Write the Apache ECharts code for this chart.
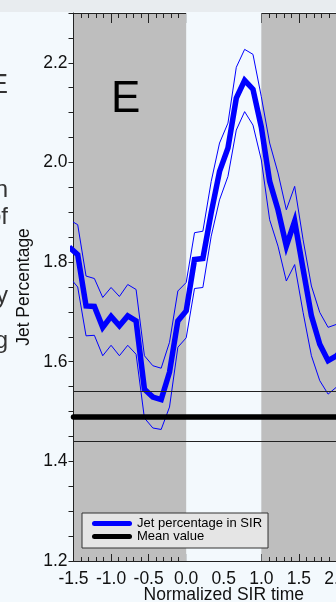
<!DOCTYPE html>
<html><head><meta charset="utf-8">
<script src="https://cdn.jsdelivr.net/npm/echarts@6/dist/echarts.min.js"></script>
<style>
html,body{margin:0;padding:0;overflow:hidden;width:336px;height:602px;background:#f3f9fd;}
#topbar{position:absolute;left:0;top:0;width:336px;height:12px;background:#e8ecef;}
#wrap{position:absolute;left:0;top:0;width:336px;height:602px;overflow:hidden;}
#chart{position:absolute;left:0;top:0;width:420px;height:602px;}
</style></head><body>
<div id="topbar"></div>
<div id="wrap"><div id="chart"></div></div>
<script>
// Normalized SIR time (bin centres) and jet percentage values
const sirTimes  = [-1.556,-1.444,-1.333,-1.222,-1.111,-1.0,-0.889,-0.778,-0.667,-0.556,-0.444,-0.333,-0.222,-0.111,0.0,
                   0.111,0.222,0.333,0.444,0.556,0.667,0.778,0.889,1.0,1.111,1.222,1.333,1.444,1.556,1.667,1.778,1.889,2.0,2.111];
const jetMean   = [1.830,1.815,1.712,1.711,1.669,1.691,1.672,1.692,1.682,1.545,1.529,1.524,1.579,1.682,1.702,
                   1.805,1.807,1.899,1.982,2.029,2.129,2.165,2.147,2.071,1.962,1.905,1.832,1.882,1.786,1.692,1.635,1.602,1.612,1.630];
const jetUpper  = [1.885,1.875,1.772,1.767,1.729,1.749,1.731,1.755,1.745,1.612,1.592,1.587,1.639,1.742,1.759,
                   1.859,1.862,1.962,2.039,2.079,2.191,2.227,2.217,2.132,2.039,1.979,1.905,1.952,1.845,1.752,1.699,1.669,1.675,1.690];
const jetLower  = [1.770,1.750,1.652,1.653,1.612,1.633,1.612,1.633,1.615,1.487,1.467,1.464,1.509,1.629,1.648,
                   1.747,1.749,1.852,1.925,1.972,2.065,2.102,2.075,2.005,1.885,1.832,1.762,1.795,1.699,1.612,1.562,1.535,1.549,1.565];
const meanValue  = 1.492;
const meanSpread = 0.048;
const sirStart = 0.0, sirEnd = 1.0;
const xTickLabels = ['-1.5','-1.0','-0.5','0.0','0.5','1.0','1.5','2.0','2.5'];
const yTickLabels = ['1.2','1.4','1.6','1.8','2.0','2.2'];
const panelLetter = 'E';
const captionBits = ['E','n','of','y','g'];

const FONT = 'Liberation Sans, Arial, Helvetica, sans-serif';
const zip = (xs, ys) => xs.map((x, i) => [x, ys[i]]);

const chart = echarts.init(document.getElementById('chart'), null, {renderer: 'canvas'});

const tickAxisCommon = {
  type: 'value', min: -1.5, max: 2.5, interval: 0.5,
  splitLine: {show: false},
  axisLine: {show: true, onZero: false, lineStyle: {color: '#222', width: 1}}
};

const captionY = [86, 190, 217, 296, 341];
const captionSize = [27, 24, 24, 24, 24];

chart.setOption({
  animation: false,
  grid: {left: 73.5, top: 13, width: 300.5, height: 548, show: true, backgroundColor: '#bebebe', borderWidth: 0,
         containLabel: false, outerBoundsMode: 'none'},
  xAxis: [
    Object.assign({}, tickAxisCommon, {
      position: 'bottom',
      axisTick: {show: true, inside: true, length: 7, lineStyle: {color: '#222'}},
      minorTick: {show: true, splitNumber: 5, length: 4, lineStyle: {color: '#222'}},
      axisLabel: {margin: 9, fontSize: 17.5, color: '#111', fontFamily: FONT,
        formatter: v => { const i = Math.round((v + 1.5) / 0.5); return xTickLabels[i] || ''; }},
      name: 'Normalized SIR time', nameLocation: 'middle', nameGap: 25, nameMoveOverlap: false,
      nameTextStyle: {fontSize: 17.5, color: '#111', fontFamily: FONT}
    }),
    Object.assign({}, tickAxisCommon, {
      position: 'top',
      axisTick: {show: true, inside: true, length: 10, lineStyle: {color: '#222'}},
      minorTick: {show: true, splitNumber: 5, length: 5, lineStyle: {color: '#222'}},
      axisLabel: {show: false}
    })
  ],
  yAxis: {
    type: 'value', min: 1.2, max: 2.3, interval: 0.05,
    splitLine: {show: false},
    axisLine: {show: true, onZero: false, lineStyle: {color: '#222', width: 1}},
    axisTick: {show: true, inside: false, length: 5, lineStyle: {color: '#222'}},
    axisLabel: {margin: 6, fontSize: 17.5, color: '#111', fontFamily: FONT,
      formatter: v => { const r = Math.round(v * 100); if (r % 20 !== 0) return ''; const i = (r - 120) / 20; return yTickLabels[i] || ''; }},
    name: 'Jet Percentage', nameLocation: 'middle', nameGap: 40, nameRotate: 90, nameMoveOverlap: false,
    nameTextStyle: {fontSize: 17.5, color: '#111', fontFamily: FONT}
  },
  legend: {
    data: [
      {name: 'Jet percentage in SIR', icon: 'path://M2.5,0 L37.5,0 A2.5,2.5 0 0 1 37.5,5 L2.5,5 A2.5,2.5 0 0 1 2.5,0 Z'},
      {name: 'Mean value', icon: 'path://M2.5,0 L37.5,0 A2.5,2.5 0 0 1 37.5,5 L2.5,5 A2.5,2.5 0 0 1 2.5,0 Z'}
    ],
    orient: 'vertical', left: 82, top: 513,
    itemWidth: 40, itemHeight: 5, itemGap: 0,
    padding: [4, 6, 5, 10],
    backgroundColor: '#e5e5e5', borderColor: '#333', borderWidth: 1, borderRadius: 0,
    selectedMode: false,
    textStyle: {fontSize: 13, lineHeight: 12, color: '#000', fontFamily: FONT}
  },
  graphic: [
    {type: 'text', left: 111, top: 78, z: 50, style: {text: panelLetter, fontSize: 44, fill: '#000', fontFamily: FONT}}
  ].concat(captionBits.map((t, i) => ({
    type: 'text', x: 8, y: captionY[i], z: 50,
    style: {text: t, fontSize: captionSize[i], fill: '#333', fontFamily: FONT, align: 'right', verticalAlign: 'middle'}
  }))),
  series: [
    {
      name: 'band', type: 'line', data: [], silent: true, z: 1,
      markArea: {silent: true, itemStyle: {color: '#f3f9fd'}, data: [[{xAxis: sirStart}, {xAxis: sirEnd}]]}
    },
    {
      name: 'upper', type: 'line', data: zip(sirTimes, jetUpper), symbol: 'none', z: 3,
      lineStyle: {color: '#0000ff', width: 1}, itemStyle: {color: '#0000ff'}
    },
    {
      name: 'lower', type: 'line', data: zip(sirTimes, jetLower), symbol: 'none', z: 3,
      lineStyle: {color: '#0000ff', width: 1}, itemStyle: {color: '#0000ff'}
    },
    {
      name: 'Jet percentage in SIR', type: 'line', data: zip(sirTimes, jetMean), symbol: 'none', z: 4,
      lineStyle: {color: '#0000ff', width: 5.5, join: 'miter'}, itemStyle: {color: '#0000ff'}
    },
    {
      name: 'Mean value', type: 'line', data: [], symbol: 'none', z: 6,
      lineStyle: {color: '#000', width: 5.5}, itemStyle: {color: '#000'},
      markLine: {
        silent: true, symbol: 'none', label: {show: false},
        data: [
          {yAxis: meanValue, lineStyle: {color: '#000', width: 5.5, type: 'solid', cap: 'round'}},
          {yAxis: meanValue + meanSpread, lineStyle: {color: '#222', width: 1, type: 'solid'}},
          {yAxis: meanValue - meanSpread, lineStyle: {color: '#222', width: 1, type: 'solid'}}
        ]
      }
    }
  ]
});
</script>
</body></html>
